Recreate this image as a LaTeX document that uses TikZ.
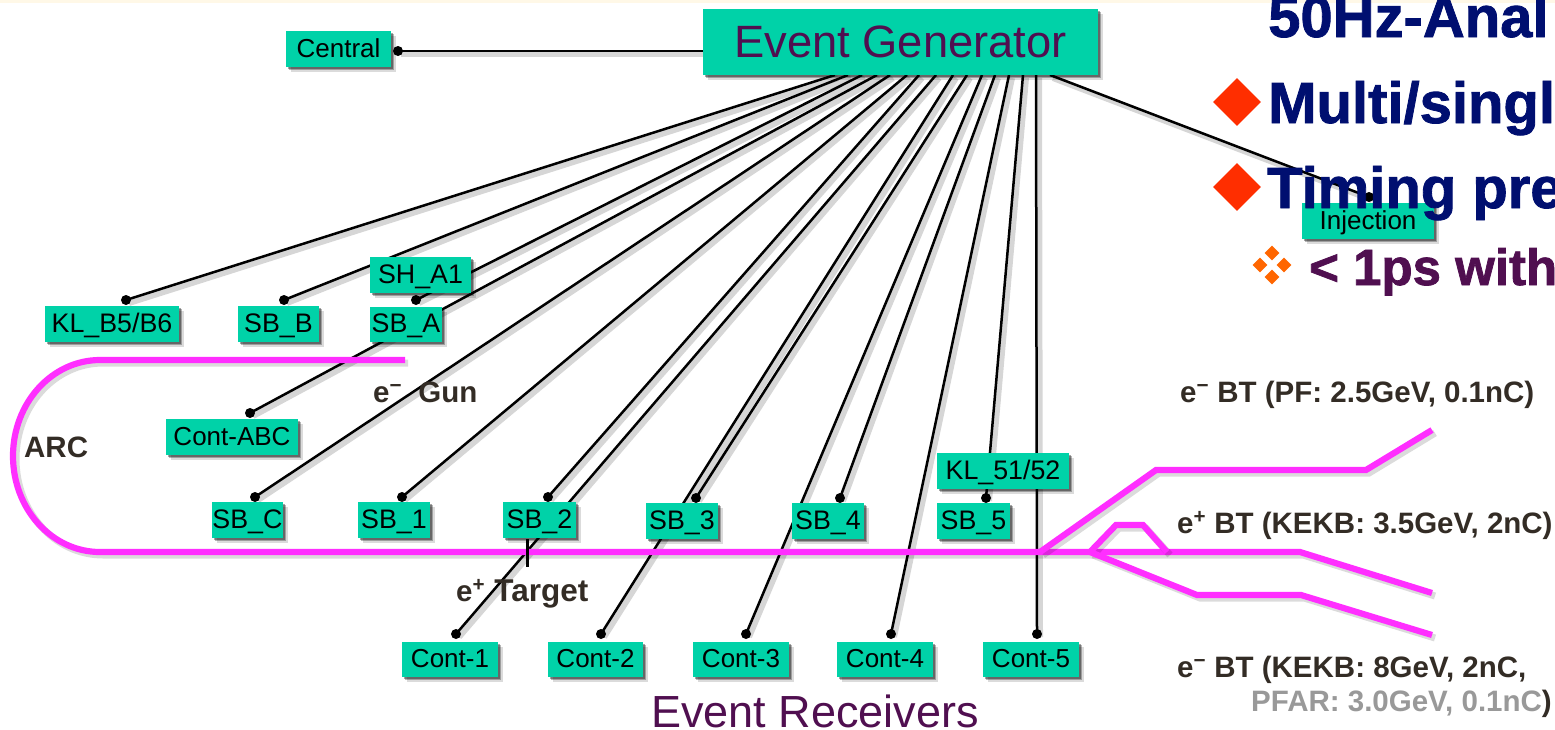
\documentclass[tikz,border=0pt]{standalone}
\usepackage{fontspec}
\setmainfont{Liberation Sans}
\newfontfamily\slidefont[BoldFeatures={FakeBold=1.4}]{Liberation Sans}
\usetikzlibrary{shadows,calc,shapes.geometric}
\definecolor{boxgreen}{HTML}{00D2A8}
\definecolor{beam}{HTML}{FF2EFF}
\definecolor{egpurple}{HTML}{500F50}
\definecolor{slidenavy}{HTML}{000F70}
\definecolor{slidered}{HTML}{FF2E00}
\definecolor{slideorange}{HTML}{FF6600}
\definecolor{labeldark}{HTML}{332C25}
\definecolor{labelgray}{HTML}{999999}
\definecolor{topband}{HTML}{FFF8E7}
\tikzset{
  softshadow/.style={
    general shadow={shadow xshift=4.5pt,shadow yshift=-4.5pt,fill=black,fill opacity=.14},
    general shadow={shadow xshift=3pt,shadow yshift=-3pt,fill=black,fill opacity=.28},
    general shadow={shadow xshift=1.5pt,shadow yshift=-1.5pt,fill=black,fill opacity=.35}},
  rec/.style={rectangle,fill=boxgreen,inner sep=0pt,softshadow,text=black,
    font=\fontsize{26.8}{30}\selectfont,text height=19pt,text depth=3pt},
  recc/.style={rec,font=\fontsize{26}{30}\selectfont},
  bigbox/.style={rectangle,fill=boxgreen,inner sep=0pt,softshadow,text=egpurple,
    font=\fontsize{45.3}{50}\selectfont,text height=32pt,text depth=1pt},
  dotn/.style={circle,fill=black,inner sep=0pt,minimum size=10pt},
  wire/.style={draw=black,line width=2.5pt,
    preaction={draw=black,draw opacity=.16,line width=6pt,transform canvas={xshift=3pt,yshift=-3pt}}},
  beamline/.style={draw=beam,line width=6.2pt,line join=miter,
    preaction={draw=black,draw opacity=.14,line width=7pt,transform canvas={xshift=3pt,yshift=-3pt}}},
  lab/.style={anchor=base west,inner sep=0pt,text=labeldark,font=\bfseries\fontsize{29.5}{33}\selectfont},
  slidetext/.style={anchor=base west,inner sep=0pt,font=\slidefont\bfseries\fontsize{58}{62}\selectfont},
  redbullet/.style={diamond,fill=slidered,inner sep=0pt,minimum size=48pt},
  smallbullet/.style={diamond,fill=slideorange,inner sep=0pt,minimum size=15pt},
}
\begin{document}
\begin{tikzpicture}[x=1pt,y=-1pt]
\useasboundingbox (0,0) rectangle (1555,729);
\clip (0,0) rectangle (1555,729);
\fill[white] (0,0) rectangle (1555,729);
\fill[topband] (0,0) rectangle (1555,3);

% dots
\node[dotn] (dCentral) at (398,51) {};
\node[dotn] (dKLB) at (126,300) {};
\node[dotn] (dSBB) at (284,300) {};
\node[dotn] (dSHA) at (416,300) {};
\node[dotn] (dABC) at (250,413) {};
\node[dotn] (dSBC) at (255,497) {};
\node[dotn] (dSB1) at (402,497) {};
\node[dotn] (dSB2) at (548,497) {};
\node[dotn] (dSB3) at (696,498) {};
\node[dotn] (dSB4) at (840,498) {};
\node[dotn] (dSB5) at (986,498) {};
\node[dotn] (dC1) at (456,634) {};
\node[dotn] (dC2) at (601,634) {};
\node[dotn] (dC3) at (746,634) {};
\node[dotn] (dC4) at (891,634) {};
\node[dotn] (dC5) at (1037,634) {};
\node[dotn] (dInj) at (1369,197) {};

\coordinate (egbottom) at (900,75);
\coordinate (egleft) at (703,51);

\path[wire] (egleft) -- (dCentral.center);
\foreach \gx/\d in {835/dKLB,848/dSBB,862/dSHA,877/dABC,890/dSBC,907/dSB1,919/dSB2,936/dC1,953/dC2,967/dSB3,982/dC3,995/dSB4,1009/dC4,1023/dSB5,1036/dC5,1050/dInj}
  \path[wire] (\gx,0 |- egbottom) -- (\d.center);

% beam
\path[beamline] (405,360) -- (100,360) arc[start angle=-90,delta angle=-180,x radius=87,y radius=96] -- (1300,552) -- (1432,593);
\path[beamline] (1040,552) -- (1156,470) -- (1366,470) -- (1432,430);
\path[beamline] (1090,552) -- (1116,525) -- (1143,525) -- (1167,552);
\path[beamline] (1090,552) -- (1197,595) -- (1301,595) -- (1432,635);
\draw[black,line width=3pt] (527,539) -- (527,567);

% boxes
\node[bigbox,minimum width=395pt,minimum height=66pt] (eg) at (900.5,42) {Event Generator};
\node[recc,minimum width=105pt,minimum height=36pt] (central) at (338.5,49) {Central};
\node[rec,minimum width=134pt,minimum height=36pt] (klb) at (112,324) {KL\_B5/B6};
\node[rec,minimum width=81pt,minimum height=36pt] (sbb) at (278.5,324) {SB\_B};
\node[rec,minimum width=101pt,minimum height=36pt] (sha) at (420.5,275) {SH\_A1};
\node[rec,minimum width=72pt,minimum height=35pt] (sba) at (406,324.5) {SB\_A};
\node[recc,minimum width=132pt,minimum height=36pt] (abc) at (232,437) {Cont-ABC};
\node[rec,minimum width=71pt,minimum height=36pt] (sbc) at (247.5,520) {SB\_C};
\node[rec,minimum width=72pt,minimum height=36pt] (sb1) at (394,520) {SB\_1};
\node[rec,minimum width=73pt,minimum height=36pt] (sb2) at (539.5,520) {SB\_2};
\node[rec,minimum width=72pt,minimum height=36pt] (sb3) at (682,521) {SB\_3};
\node[rec,minimum width=72pt,minimum height=36pt] (sb4) at (828,521) {SB\_4};
\node[rec,minimum width=73pt,minimum height=36pt] (sb5) at (973.5,521) {SB\_5};
\node[rec,minimum width=132pt,minimum height=36pt] (kl5) at (1003,471) {KL\_51/52};
\node[recc,minimum width=96pt,minimum height=35pt] (c1) at (450,659.5) {Cont-1};
\node[recc,minimum width=95pt,minimum height=35pt] (c2) at (595.5,659.5) {Cont-2};
\node[recc,minimum width=96pt,minimum height=35pt] (c3) at (741,659.5) {Cont-3};
\node[recc,minimum width=96pt,minimum height=35pt] (c4) at (885,659.5) {Cont-4};
\node[recc,minimum width=96pt,minimum height=35pt] (c5) at (1031,659.5) {Cont-5};
\node[recc,minimum width=132pt,minimum height=36pt] (inj) at (1368,221) {Injection};

% labels
\node[anchor=base west,inner sep=0pt,text=egpurple,font=\fontsize{45}{50}\selectfont,text depth=0pt] (er) at (651,727) {Event Receivers};
\node[lab] (arc) at (24,457) {ARC};
\node[lab] (gun) at (373,402) {e\textsuperscript{−}\hspace{8pt} Gun};
\node[lab] (tgt) at (456,601) {e\textsuperscript{+}\hspace{1pt} {\fontsize{31.5}{33}\selectfont Target}};
\node[lab] (bt1) at (1180,402) {e\textsuperscript{−} BT (PF: 2.5GeV, 0.1nC)};
\node[lab] (bt2) at (1177,533) {e\textsuperscript{+} BT (KEKB: 3.5GeV, 2nC)};
\node[lab] (bt3) at (1177,677) {e\textsuperscript{−} BT (KEKB: 8GeV, 2nC,};
\node[lab] (bt4) at (1251,711) {\textcolor{labelgray}{PFAR: 3.0GeV, 0.1nC}\textcolor{labeldark}{)}};

% slide text
\node[slidetext,text=slidenavy] (s1) at (1268,37) {50Hz-Anal};
\node[redbullet] (b1) at (1237,102) {};
\node[slidetext,text=slidenavy] (s2) at (1268,123) {Multi/singl};
\node[redbullet] (b2) at (1237,187) {};
\node[slidetext,text=slidenavy] (s3) at (1267,208) {Timing pre};
\foreach \dx/\dy in {0/-12,12/0,0/12,-12/0}
  \node[smallbullet] at (1272+\dx,265+\dy) {};
\node[slidetext,text=egpurple,font=\slidefont\bfseries\fontsize{51}{55}\selectfont] (s4) at (1309,285) {< 1ps with};
\end{tikzpicture}
\end{document}
